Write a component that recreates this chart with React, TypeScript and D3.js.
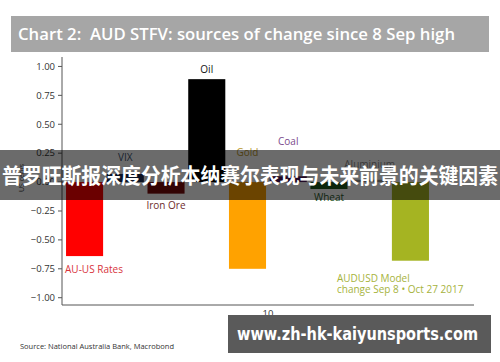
import React from 'react';
import * as d3 from 'd3';

// factor contributions, US cents
const factors = ['AU-US Rates', 'VIX', 'Iron Ore', 'Oil', 'Gold', 'Coal', 'Wheat', 'Aluminium', 'AUDUSD Model'];
const changes = [-0.64, 0.07, -0.1, 0.89, -0.75, 0.05, -0.06, 0.02, -0.68];
// where the annotation sits, in axis units
const labelAt = [-0.76, 0.21, -0.2, 0.97, 0.26, 0.35, -0.13, 0.15, -0.83];
const yTicks = [1, 0.75, 0.5, 0.25, 0, -0.25, -0.5, -0.75, -1];

const barColors = ['#ff0000', '#1c2f5a', '#7a0a0a', '#000000', '#ffa200', '#4e1659', '#1d5a1d', '#9a9a9a', '#a5b422'];
const textColors = ['#d8333b', '#3e5573', '#6e2b2b', '#111111', '#b8962e', '#7b4b8c', '#2c5a2c', '#8a8a8a', '#a6b33c'];

const W = 500;
const H = 362;

export default function App() {
  const x = d3.scaleBand().domain(factors).range([64, 431]).paddingInner(0.09).paddingOuter(0.05);
  const y = d3.scaleLinear().domain([-1.063, 1.073]).range([305, 58]);
  const fmt = d3.format('.2f');
  const font = '"Open Sans", "Noto Sans", sans-serif';

  return (
    <svg width={W} height={H} style={{ position: 'absolute', left: 0, top: 0, background: '#fff' }} fontFamily={font}>
      <rect x={0} y={0} width={W} height={H} fill="#fff" />
      {/* title banner */}
      <rect x={11} y={16} width={478} height={36} fill="#a6a6a6" />
      <text x={18} y={40} fill="#fff" fontSize={17} fontWeight={600} textLength={437} lengthAdjust="spacingAndGlyphs"
        style={{ whiteSpace: 'pre' }}>
        {'Chart 2:  AUD STFV: sources of change since 8 Sep high'}
      </text>

      {/* bars */}
      {factors.map((f, i) => (
        <rect
          key={f}
          x={x(f)}
          width={x.bandwidth()}
          y={y(Math.max(0, changes[i]))}
          height={Math.abs(y(changes[i]) - y(0))}
          fill={barColors[i]}
        />
      ))}

      {/* annotations */}
      {factors.map((f, i) => {
        if (f === 'AUDUSD Model') {
          return (
            <text key={f} x={337} y={y(labelAt[i])} fill={textColors[i]} fontSize={10}>
              <tspan x={337} dy="0.35em">AUDUSD Model</tspan>
              <tspan x={337} dy="1.15em">change Sep 8 • Oct 27 2017</tspan>
            </text>
          );
        }
        const left = f === 'AU-US Rates';
        return (
          <text
            key={f}
            x={left ? (x(f) as number) - 1 : (x(f) as number) + x.bandwidth() / 2}
            y={y(labelAt[i])}
            dy="0.35em"
            textAnchor={left ? 'start' : 'middle'}
            fill={textColors[i]}
            fontSize={10}
          >
            {f}
          </text>
        );
      })}

      {/* y axis */}
      <line x1={62} x2={62} y1={57} y2={305} stroke="#555" strokeWidth={1} />
      {yTicks.map((t) => (
        <g key={t}>
          <line x1={58} x2={62} y1={y(t)} y2={y(t)} stroke="#555" />
          <text x={55} y={y(t)} dy="0.35em" textAnchor="end" fontSize={9.5} fill="#333">
            {fmt(t)}
          </text>
        </g>
      ))}
      <text transform="translate(24,178) rotate(-90)" textAnchor="middle" fontSize={7} fill="#333">
        US cents
      </text>

      {/* x axis */}
      <line x1={62} x2={474} y1={305} y2={305} stroke="#555" strokeWidth={1} />
      <text x={268} y={314} dy="0.35em" textAnchor="middle" fontSize={9.5} fill="#333">10</text>
      <text x={267} y={327} dy="0.35em" textAnchor="middle" fontSize={9.5} fill="#333">2017 Nov</text>

      <text x={20} y={346} dy="0.35em" fontSize={7.5} fill="#333">
        Source: National Australia Bank, Macrobond
      </text>

      {/* overlay band */}
      <rect x={0} y={150} width={W} height={50} fill="rgba(0,0,0,0.58)" />
      <text x={2} y={176} dy="0.35em" fill="#fff" fontSize={21} fontWeight={700} textLength={496}
        lengthAdjust="spacingAndGlyphs" fontFamily='"Noto Sans CJK SC", sans-serif'>
        普罗旺斯报深度分析本纳赛尔表现与未来前景的关键因素
      </text>

      {/* watermark */}
      <rect x={228} y={315} width={263} height={38} fill="#5a5a5a" />
      <text x={237} y={334} dy="0.35em" fill="#fff" fontSize={18} fontWeight={700} textLength={241}
        lengthAdjust="spacingAndGlyphs" fontFamily='"DejaVu Sans", sans-serif'>
        www.zh-hk-kaiyunsports.com
      </text>
    </svg>
  );
}
